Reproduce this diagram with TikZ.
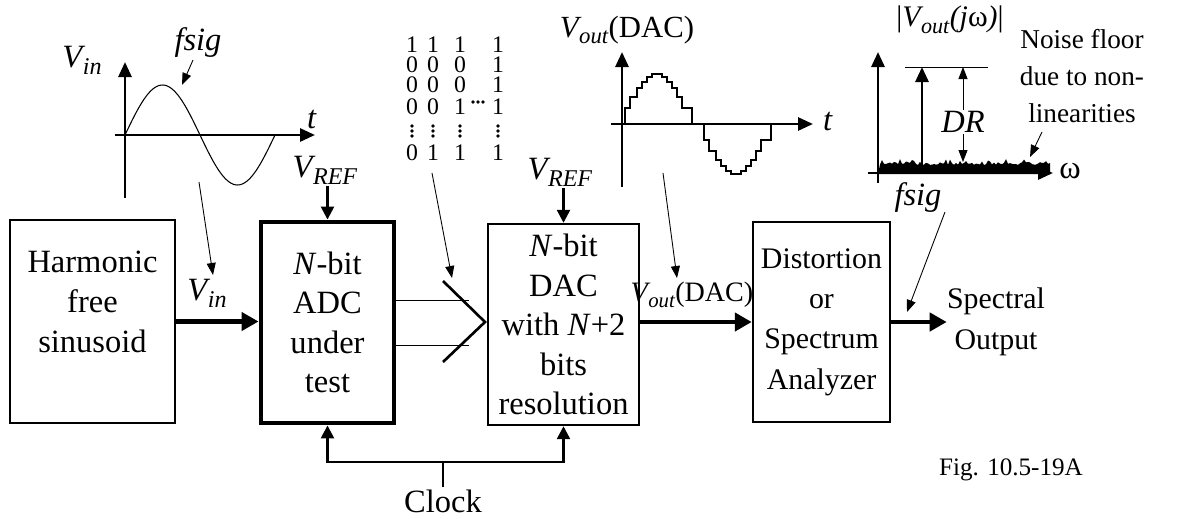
\documentclass[tikz,border=0pt]{standalone}
\usepackage{fontspec}
\setmainfont{Liberation Serif}
\usetikzlibrary{arrows.meta, positioning, calc}
\newcommand{\Vs}[2]{\textit{#1}\kern-0.08em\raisebox{-0.22em}{\scalebox{0.74}{\textit{#2}}}}
\tikzset{
  blk/.style={rectangle,draw,line width=1.4pt,align=center,inner sep=0pt},
  adcblk/.style={blk,line width=2.8pt},
  bigarr/.style={-{Triangle[length=0.34cm,width=0.36cm]},line width=2.6pt},
  refarr/.style={-{Triangle[length=0.26cm,width=0.26cm]},line width=1.4pt},
  axarr/.style={-{Triangle[length=0.3cm,width=0.26cm]},line width=1.6pt},
  ptr/.style={-{Triangle[length=0.24cm,width=0.18cm]},line width=0.5pt},
  bit/.style={inner sep=0pt,text height=8.5pt,text depth=0pt,font=\fontsize{13.5}{13.5}\selectfont},
  lbl/.style={inner sep=1pt},
  small/.style={font=\fontsize{17}{21}\selectfont}
}
\begin{document}
\begin{tikzpicture}[x=0.02cm,y=-0.02cm,font=\fontsize{18.5}{22.5}\selectfont]
  \useasboundingbox (0,0) rectangle (1178,518);
  \pgfmathsetseed{7}

  % blocks
  \node[blk, minimum width=3.3cm, minimum height=4.06cm] (harm) at (92.5,321.5) {Harmonic\\free\\sinusoid\\\mbox{}};
  \node[adcblk, minimum width=2.66cm, minimum height=4.02cm] (adc) at (327.5,322.5) {\textit{N}-bit\\ADC\\under\\test};
  \node[blk, minimum width=3.02cm, minimum height=4.02cm] (dac) at (563.5,324.5) {\textit{N}-bit\\DAC\\with \textit{N}+2\\bits\\resolution};
  \node[blk, small, minimum width=2.74cm, minimum height=4cm] (dist) at (821.5,322) {Distortion\\[2pt]or\\[2pt]Spectrum\\[2pt]Analyzer};
  \node[align=center, small, inner sep=0pt] (out) at (996,322) {Spectral\\[2pt]Output};

  % signal path
  \node[lbl] (vin) at (207,293) {\Vs{V}{in}};
  \draw[bigarr] (harm.east) -- (harm.east -| adc.west);
  \node[lbl, font=\fontsize{16}{19}\selectfont] (vdac) at (692,295) {\Vs{V}{out}(DAC)};
  \draw[bigarr] (dac.east |- dist.west) -- (dist.west);
  \draw[bigarr] (dist.east) -- (out.west);

  % references
  \node[lbl] (refa) at (325,170) {\Vs{V}{REF}};
  \node[lbl] (refb) at (560,172) {\Vs{V}{REF}};
  \draw[refarr] (refa.south -| adc.north) -- (adc.north);
  \draw[refarr] (refb.south -| dac.north) -- (dac.north);

  % digital bus
  \draw[line width=1.1pt] ($(adc.east)+(0,-22)$) -- ++(73,0);
  \draw[line width=1.1pt] ($(adc.east)+(0,23)$) -- ++(73,0);
  \draw[line width=1.5pt] (443,281) -- (485,322) -- (443,362);

  % clock
  \node[lbl] (clk) at (443,501) {Clock};
  \coordinate (cj) at (443,462);
  \draw[line width=1.4pt] (clk.north) -- (cj);
  \draw[refarr] (cj) -| (adc.south);
  \draw[refarr] (cj) -| (dac.south);

  % input sinusoid
  \draw[axarr] (125,198) -- (125,62);
  \draw[axarr] (115,135) -- (315,135);
  \draw[line width=0.6pt] plot[domain=0:150,samples=80] ({125+\x},{135-50*sin(2.4*\x)});
  \node[lbl] (vinax) at (82,60) {\Vs{V}{in}};
  \node[lbl] (ta) at (312,120) {\textit{t}};
  \node[lbl] (fsiga) at (198,43) {\textit{fsig}};
  \coordinate (pka) at (182,85);
  \draw[ptr] (fsiga.south -| 193,0) -- (pka);

  % output codes
  \foreach \y/\a/\b/\c/\d [count=\r] in {45/1/1/1/1, 65/0/0/0/1, 85/0/0/0/1, 107/0/0/1/1, 153/0/1/1/1} {
    \node[bit] (b\r-1) at (412,\y) {\a};
    \node[bit] (b\r-2) at (433,\y) {\b};
    \node[bit] (b\r-3) at (460,\y) {\c};
    \node[bit] (b\r-4) at (498,\y) {\d};
  }
  \foreach \x in {412,433,460,498}
    \foreach \dy in {-5,0,5}
      \fill (\x,{131+\dy}) circle[radius=1.1pt];
  \foreach \dx in {-5,0,5}
    \fill ({478+\dx},102) circle[radius=1.1pt];

  % DAC output
  \draw[axarr] (622,187) -- (622,52);
  \draw[axarr] (611,124) -- (813,124);
  \draw[line width=0.7pt] (625,124) foreach \x/\h in {630/16,637/27,642/36,647/42,652/47,662/50,667/47,672/42,677/36,682/27,692/16} { |- (\x,{124-\h}) } -- (692,124);
  \draw[line width=0.7pt] (704,124) foreach \x/\h in {630/16,637/27,642/36,647/42,652/47,662/50,667/47,672/42,677/36,682/27,692/16} { |- ({\x+79},{124+\h}) } -- (771,124);
  \node[lbl, font=\fontsize{17.5}{20}\selectfont] (vdacax) at (627,30) {\Vs{V}{out}(DAC)};
  \node[lbl] (tb) at (828,122) {\textit{t}};

  % spectrum
  \fill (878,174) foreach \x in {880,882,...,1050} { -- (\x,{165-3*rnd-(rnd>0.85)*3}) } -- (1050,174) -- cycle;
  \draw[axarr] (878,183) -- (878,52);
  \draw[axarr] (868,173) -- (1053,173);
  \draw[axarr] (922,173) -- (922,67);
  \draw[line width=0.5pt] (905,67) -- (988,67);
  \draw[{Triangle[length=0.24cm,width=0.18cm]}-{Triangle[length=0.24cm,width=0.18cm]},line width=0.5pt] (963,67) -- (963,162);
  \node[fill=white, inner sep=1pt] (dr) at (963,122) {\textit{DR}};
  \node[lbl, font=\fontsize{17}{20}\selectfont] (mag) at (950,20) {|\Vs{V}{out}\textit{(j}ω\textit{)}|};
  \node[lbl] (fsigb) at (918,198) {\textit{fsig}};
  \node[lbl] (omg) at (1070,171) {ω};
  \node[align=center, lbl, font=\fontsize{15.5}{21}\selectfont] (noise) at (1082,76) {Noise floor\\due to non-\\linearities};
  \coordinate (nz0) at (1042,132);
  \coordinate (nz1) at (1030,157);
  \draw[ptr] (nz0) -- (nz1);

  % pointers
  \coordinate (pa0) at (199,182);
  \coordinate (pa1) at (213,275);
  \coordinate (pb0) at (432,173);
  \coordinate (pb1) at (452,278);
  \coordinate (pc0) at (663,173);
  \coordinate (pc1) at (677,278);
  \coordinate (pd0) at (945,212);
  \coordinate (pd1) at (907,312);
  \draw[ptr] (pa0) -- (pa1);
  \draw[ptr] (pb0) -- (pb1);
  \draw[ptr] (pc0) -- (pc1);
  \draw[ptr] (pd0) -- (pd1);

  \node[lbl, font=\fontsize{14.3}{17}\selectfont] (fig) at (1011,470) {Fig. 10.5-19A};
\end{tikzpicture}
\end{document}
